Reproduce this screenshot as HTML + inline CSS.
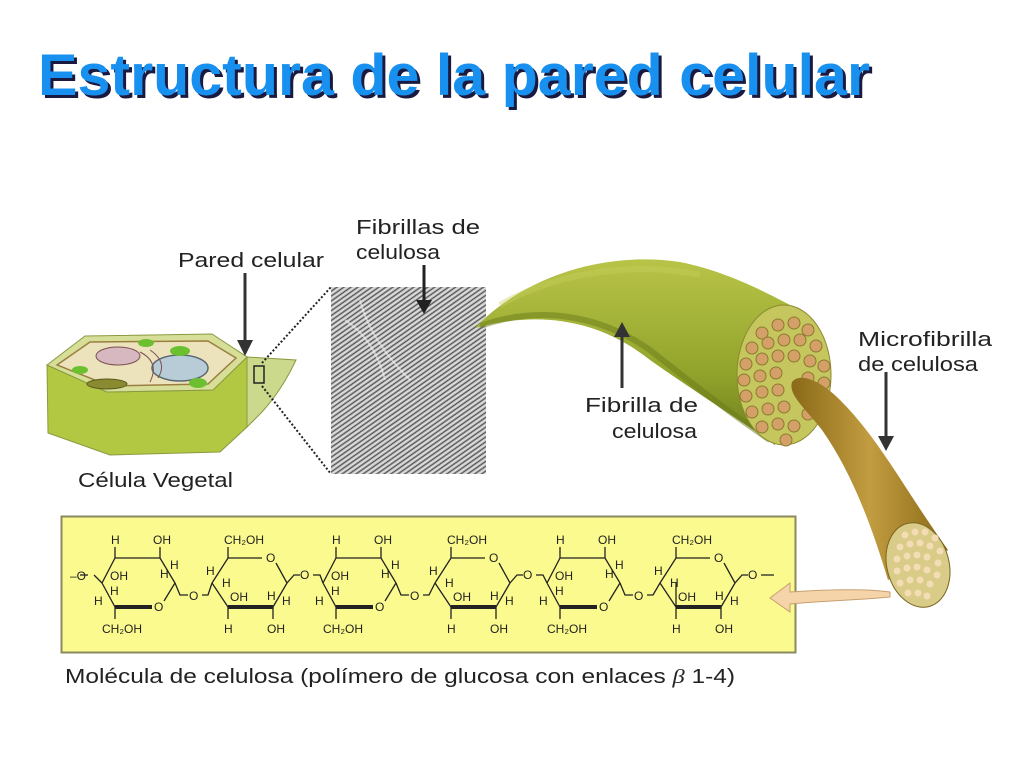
<!DOCTYPE html>
<html><head><meta charset="utf-8"><style>
html,body{margin:0;padding:0;background:#fff;}
svg{display:block;}
.lb{font-family:"Comic Sans MS","Liberation Sans",sans-serif;font-size:20px;fill:#222;}
.m{font-family:"Liberation Sans",sans-serif;font-size:12px;fill:#222;}
</style></head><body>
<svg width="1024" height="768" viewBox="0 0 1024 768" xmlns="http://www.w3.org/2000/svg">
<defs>
<linearGradient id="fg" x1="0" y1="0" x2="0" y2="1">
<stop offset="0" stop-color="#b8c448"/><stop offset="0.6" stop-color="#93a42c"/><stop offset="1" stop-color="#6d7e1c"/></linearGradient>
<linearGradient id="mg" x1="0" y1="0" x2="1" y2="0">
<stop offset="0" stop-color="#8a6a18"/><stop offset="0.5" stop-color="#c29c40"/><stop offset="1" stop-color="#8a6a18"/></linearGradient>
<pattern id="tex" width="4" height="4" patternUnits="userSpaceOnUse" patternTransform="rotate(-35)">
<rect width="4" height="4" fill="#b8b8b8"/><rect width="4" height="1" fill="#505050"/><rect y="2" width="4" height="1" fill="#e8e8e8"/></pattern>
</defs>

<text x="41" y="98" textLength="832" lengthAdjust="spacingAndGlyphs" font-family="Comic Sans MS, Liberation Sans, sans-serif" font-weight="bold" font-size="58" fill="#1a1a40">Estructura de la pared celular</text>
<text x="38" y="95" textLength="832" lengthAdjust="spacingAndGlyphs" font-family="Comic Sans MS, Liberation Sans, sans-serif" font-weight="bold" font-size="58" fill="#1890f0">Estructura de la pared celular</text>

<path d="M47,365 L48,433 L110,455 L220,452 L247,427 L247,357 L213,390 L107,392 Z" fill="#b2c842" stroke="#8a9a40" stroke-width="1"/>
<path d="M47,365 L85,336 L212,334 L247,357 L213,390 L107,392 Z" fill="#d6de98" stroke="#8a9a40" stroke-width="1"/>
<path d="M57,365 L90,342 L208,341 L236,358 L208,384 L110,386 Z" fill="#ece3bc" stroke="#9a8040" stroke-width="1.5"/>
<ellipse cx="118" cy="356" rx="22" ry="9" fill="#d8b8c0" stroke="#7a5050"/>
<ellipse cx="180" cy="368" rx="28" ry="13" fill="#b8ccd8" stroke="#5a6a70" stroke-width="1.5"/>
<ellipse cx="107" cy="384" rx="20" ry="5" fill="#8a8a30" stroke="#5a5a20"/>
<ellipse cx="80" cy="370" rx="8" ry="4" fill="#6cc030"/><ellipse cx="146" cy="343" rx="8" ry="4" fill="#6cc030"/>
<ellipse cx="180" cy="351" rx="10" ry="5" fill="#6cc030"/><ellipse cx="198" cy="383" rx="9" ry="5" fill="#6cc030"/>
<path d="M140,352 q20,10 10,30 M150,350 q18,12 8,28" stroke="#7a5050" fill="none"/>
<path d="M247,357 L296,360 Q282,390 262,412 L247,427 Z" fill="#cbd98c" stroke="#8a9a40"/>
<rect x="254" y="366" width="10" height="17" fill="none" stroke="#222" stroke-width="1.5"/>
<line x1="262" y1="363" x2="331" y2="287" stroke="#222" stroke-width="2" stroke-dasharray="2,2"/>
<line x1="262" y1="386" x2="331" y2="474" stroke="#222" stroke-width="2" stroke-dasharray="2,2"/>

<rect x="331" y="287" width="155" height="187" fill="url(#tex)"/>
<path d="M345,320 q30,20 40,60 M360,300 q10,40 50,80" stroke="#eee" stroke-width="2" fill="none" opacity="0.6"/>

<text class="lb" x="178" y="267" textLength="146" lengthAdjust="spacingAndGlyphs">Pared celular</text>
<line x1="245" y1="273" x2="245" y2="345" stroke="#333" stroke-width="3"/>
<path d="M237,340 L245,356 L253,340 Z" fill="#333"/>
<text class="lb" x="356" y="234" textLength="124" lengthAdjust="spacingAndGlyphs">Fibrillas de</text>
<text class="lb" x="356" y="259" textLength="84" lengthAdjust="spacingAndGlyphs">celulosa</text>
<line x1="424" y1="265" x2="424" y2="303" stroke="#222" stroke-width="3"/>
<path d="M416,300 L424,314 L432,300 Z" fill="#222"/>
<text class="lb" x="78" y="487" textLength="155" lengthAdjust="spacingAndGlyphs">Célula Vegetal</text>

<path d="M475,328 C520,280 600,250 680,262 C730,272 770,295 790,305 L775,445 C740,420 700,395 650,360 C600,320 540,310 475,328 Z" fill="url(#fg)"/>
<path d="M480,326 C540,305 600,315 650,350 C700,390 740,420 770,440" stroke="#6a7a18" stroke-width="6" fill="none" opacity="0.5"/>
<path d="M500,305 C560,270 640,262 700,275" stroke="#c8d060" stroke-width="6" fill="none" opacity="0.4"/>
<ellipse cx="784" cy="375" rx="47" ry="70" fill="#c6c65e" stroke="#8a8a30"/>
<g fill="#d4a068" stroke="#8a7a30" stroke-width="1">
<circle cx="778" cy="325" r="6"/><circle cx="794" cy="323" r="6"/><circle cx="808" cy="330" r="6"/><circle cx="762" cy="333" r="6"/>
<circle cx="752" cy="348" r="6"/><circle cx="768" cy="343" r="6"/><circle cx="784" cy="340" r="6"/><circle cx="800" cy="340" r="6"/><circle cx="816" cy="346" r="6"/>
<circle cx="746" cy="364" r="6"/><circle cx="762" cy="359" r="6"/><circle cx="778" cy="356" r="6"/><circle cx="794" cy="356" r="6"/><circle cx="810" cy="361" r="6"/><circle cx="824" cy="366" r="6"/>
<circle cx="744" cy="380" r="6"/><circle cx="760" cy="376" r="6"/><circle cx="776" cy="373" r="6"/><circle cx="808" cy="378" r="6"/><circle cx="824" cy="383" r="6"/>
<circle cx="746" cy="396" r="6"/><circle cx="762" cy="392" r="6"/><circle cx="778" cy="390" r="6"/><circle cx="818" cy="398" r="6"/>
<circle cx="752" cy="412" r="6"/><circle cx="768" cy="409" r="6"/><circle cx="784" cy="407" r="6"/><circle cx="808" cy="414" r="6"/>
<circle cx="762" cy="427" r="6"/><circle cx="778" cy="424" r="6"/><circle cx="794" cy="426" r="6"/><circle cx="786" cy="440" r="6"/>
</g>
<path d="M792,382 C800,372 820,380 840,400 C880,440 905,490 948,550 L888,580 C870,520 850,470 822,430 C805,408 788,395 792,382 Z" fill="url(#mg)"/>
<ellipse cx="918" cy="565" rx="31" ry="43" transform="rotate(-15 918 565)" fill="#d8cc88" stroke="#7a6420"/>
<g fill="#f4dcb4">
<circle cx="905" cy="535" r="3.5"/><circle cx="915" cy="532" r="3.5"/><circle cx="925" cy="532" r="3.5"/><circle cx="935" cy="538" r="3.5"/>
<circle cx="900" cy="547" r="3.5"/><circle cx="910" cy="544" r="3.5"/><circle cx="920" cy="543" r="3.5"/><circle cx="930" cy="546" r="3.5"/><circle cx="940" cy="551" r="3.5"/>
<circle cx="897" cy="559" r="3.5"/><circle cx="907" cy="556" r="3.5"/><circle cx="917" cy="555" r="3.5"/><circle cx="927" cy="557" r="3.5"/><circle cx="938" cy="563" r="3.5"/>
<circle cx="897" cy="571" r="3.5"/><circle cx="907" cy="568" r="3.5"/><circle cx="917" cy="567" r="3.5"/><circle cx="927" cy="570" r="3.5"/><circle cx="937" cy="575" r="3.5"/>
<circle cx="900" cy="583" r="3.5"/><circle cx="910" cy="580" r="3.5"/><circle cx="920" cy="580" r="3.5"/><circle cx="930" cy="584" r="3.5"/>
<circle cx="908" cy="593" r="3.5"/><circle cx="918" cy="593" r="3.5"/><circle cx="927" cy="596" r="3.5"/>
</g>

<text class="lb" x="585" y="412" textLength="113" lengthAdjust="spacingAndGlyphs">Fibrilla de</text>
<text class="lb" x="612" y="438" textLength="85" lengthAdjust="spacingAndGlyphs">celulosa</text>
<line x1="622" y1="388" x2="622" y2="334" stroke="#333" stroke-width="3"/>
<path d="M614,337 L622,322 L630,337 Z" fill="#333"/>
<text class="lb" x="858" y="346" textLength="134" lengthAdjust="spacingAndGlyphs">Microfibrilla</text>
<text class="lb" x="858" y="371" textLength="120" lengthAdjust="spacingAndGlyphs">de celulosa</text>
<line x1="886" y1="372" x2="886" y2="440" stroke="#333" stroke-width="3"/>
<path d="M878,436 L886,451 L894,436 Z" fill="#333"/>

<rect x="61.5" y="516.5" width="734" height="136" fill="#fafa8e" stroke="#8a8a60" stroke-width="2"/>
<path d="M890,592 C860,588 820,590 790,592 L790,583 L770,598 L790,612 L790,604 C820,601 860,600 890,597 Z" fill="#f4d4a8" stroke="#c8a070"/>
<line x1="80" y1="575" x2="88" y2="575" stroke="#222" stroke-width="1.3"/>
<text class="m" x="70" y="580">–O</text>

<g transform="translate(102,583)">
<g stroke="#222" stroke-width="1.3" fill="none">
<path d="M0,0 L13,-25 L58,-25 L73,0 L62,18 M50,24 L13,24 L0,0 M13,-25 L13,-36 M58,-25 L58,-36 M13,24 L13,36 M0,0 L-8,-8 M73,0 L78,12 L86,12 M100,12 L106,12 L110,0"/>
<line x1="13" y1="24" x2="50" y2="24" stroke-width="4"/>
</g>
<text class="m" x="9" y="-39">H</text><text class="m" x="51" y="-39">OH</text>
<text class="m" x="8" y="-3">OH</text><text class="m" x="8" y="12">H</text><text class="m" x="-8" y="22">H</text>
<text class="m" x="58" y="-5">H</text><text class="m" x="68" y="-14">H</text>
<text class="m" x="52" y="28">O</text><text class="m" x="0" y="50">CH₂OH</text>
<text class="m" x="87" y="17">O</text>
</g>
<g transform="translate(212,583)">
<g stroke="#222" stroke-width="1.3" fill="none">
<path d="M0,0 L16,-25 L50,-25 M64,-20 L75,0 L61,24 M16,24 L0,0 M16,-25 L16,-36 M16,24 L16,36 M61,24 L61,36 M75,0 L82,-8 L88,-8 M101,-8 L108,-8 L111,0"/>
<line x1="16" y1="24" x2="61" y2="24" stroke-width="4"/>
</g>
<text class="m" x="12" y="-39">CH₂OH</text><text class="m" x="54" y="-21">O</text>
<text class="m" x="-6" y="-8">H</text><text class="m" x="10" y="4">H</text><text class="m" x="18" y="18">OH</text>
<text class="m" x="55" y="17">H</text><text class="m" x="70" y="22">H</text>
<text class="m" x="12" y="50">H</text><text class="m" x="55" y="50">OH</text>
<text class="m" x="88" y="-4">O</text>
</g>
<g transform="translate(323,583)">
<g stroke="#222" stroke-width="1.3" fill="none">
<path d="M0,0 L13,-25 L58,-25 L73,0 L62,18 M50,24 L13,24 L0,0 M13,-25 L13,-36 M58,-25 L58,-36 M13,24 L13,36 M73,0 L78,12 L86,12 M100,12 L106,12 L112,0"/>
<line x1="13" y1="24" x2="50" y2="24" stroke-width="4"/>
</g>
<text class="m" x="9" y="-39">H</text><text class="m" x="51" y="-39">OH</text>
<text class="m" x="8" y="-3">OH</text><text class="m" x="8" y="12">H</text><text class="m" x="-8" y="22">H</text>
<text class="m" x="58" y="-5">H</text><text class="m" x="68" y="-14">H</text>
<text class="m" x="52" y="28">O</text><text class="m" x="0" y="50">CH₂OH</text>
<text class="m" x="87" y="17">O</text>
</g>
<g transform="translate(435,583)">
<g stroke="#222" stroke-width="1.3" fill="none">
<path d="M0,0 L16,-25 L50,-25 M64,-20 L75,0 L61,24 M16,24 L0,0 M16,-25 L16,-36 M16,24 L16,36 M61,24 L61,36 M75,0 L82,-8 L88,-8 M101,-8 L108,-8 L112,0"/>
<line x1="16" y1="24" x2="61" y2="24" stroke-width="4"/>
</g>
<text class="m" x="12" y="-39">CH₂OH</text><text class="m" x="54" y="-21">O</text>
<text class="m" x="-6" y="-8">H</text><text class="m" x="10" y="4">H</text><text class="m" x="18" y="18">OH</text>
<text class="m" x="55" y="17">H</text><text class="m" x="70" y="22">H</text>
<text class="m" x="12" y="50">H</text><text class="m" x="55" y="50">OH</text>
<text class="m" x="88" y="-4">O</text>
</g>
<g transform="translate(547,583)">
<g stroke="#222" stroke-width="1.3" fill="none">
<path d="M0,0 L13,-25 L58,-25 L73,0 L62,18 M50,24 L13,24 L0,0 M13,-25 L13,-36 M58,-25 L58,-36 M13,24 L13,36 M73,0 L78,12 L86,12 M100,12 L106,12 L113,0"/>
<line x1="13" y1="24" x2="50" y2="24" stroke-width="4"/>
</g>
<text class="m" x="9" y="-39">H</text><text class="m" x="51" y="-39">OH</text>
<text class="m" x="8" y="-3">OH</text><text class="m" x="8" y="12">H</text><text class="m" x="-8" y="22">H</text>
<text class="m" x="58" y="-5">H</text><text class="m" x="68" y="-14">H</text>
<text class="m" x="52" y="28">O</text><text class="m" x="0" y="50">CH₂OH</text>
<text class="m" x="87" y="17">O</text>
</g>
<g transform="translate(660,583)">
<g stroke="#222" stroke-width="1.3" fill="none">
<path d="M0,0 L16,-25 L50,-25 M64,-20 L75,0 L61,24 M16,24 L16,0 M16,24 L0,0 M16,-25 L16,-36 M16,24 L16,36 M61,24 L61,36 M75,0 L82,-8 L88,-8 M101,-8 L114,-8"/>
<line x1="16" y1="24" x2="61" y2="24" stroke-width="4"/>
</g>
<text class="m" x="12" y="-39">CH₂OH</text><text class="m" x="54" y="-21">O</text>
<text class="m" x="-6" y="-8">H</text><text class="m" x="10" y="4">H</text><text class="m" x="18" y="18">OH</text>
<text class="m" x="55" y="17">H</text><text class="m" x="70" y="22">H</text>
<text class="m" x="12" y="50">H</text><text class="m" x="55" y="50">OH</text>
<text class="m" x="88" y="-4">O</text>
</g>

<text class="lb" x="65" y="683" textLength="670" lengthAdjust="spacingAndGlyphs">Molécula de celulosa (polímero de glucosa con enlaces <tspan font-style="italic" font-family="Liberation Serif, serif">β</tspan> 1-4)</text>
</svg>
</body></html>
